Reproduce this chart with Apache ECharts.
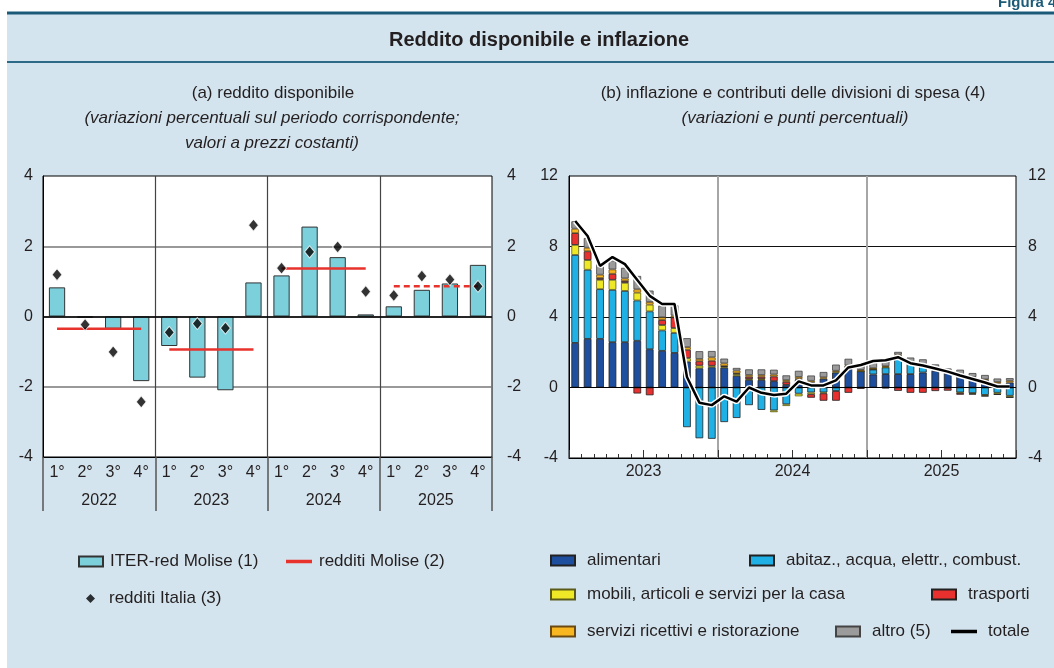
<!DOCTYPE html>
<html>
<head>
<meta charset="utf-8">
<title>Reddito disponibile e inflazione</title>
<script src="https://cdn.jsdelivr.net/npm/echarts@6/dist/echarts.min.js"></script>
<style>
  html, body { margin: 0; padding: 0; background: #fff; }
  #chart { width: 1054px; height: 668px; }
</style>
</head>
<body>
<div id="chart"></div>
<script>
// (a) reddito disponibile, dati trimestrali 2022-2025
const quarterLabels = ['1°', '2°', '3°', '4°'];
const years = ['2022', '2023', '2024', '2025'];
const iterRed = [0.83, -0.03, -0.35, -1.84, -0.84, -1.74, -2.1, 0.97, 1.17, 2.56, 1.69, 0.06, 0.29, 0.76, 0.94, 1.47];
const redditiItalia = [1.19, -0.23, -1.01, -2.43, -0.45, -0.2, -0.33, 2.6, 1.38, 1.84, 1.98, 0.71, 0.6, 1.15, 1.05, 0.86];
const redditiMolise = [-0.35, -0.94, 1.37, 0.86]; // valore annuo

// (b) inflazione, dati mensili 2023-2025
const inflYears = ['2023', '2024', '2025'];
const alimentari = [2.53, 2.76, 2.76, 2.57, 2.57, 2.65, 2.17, 2.08, 1.96, 1.47, 1.09, 1.15,
  1.12, 0.66, 0.43, 0.43, 0.36, 0.15, 0.45, 0.3, 0.5, 0.85, 1.17, 0.92,
  0.74, 0.76, 0.76, 0.76, 0.85, 0.95, 0.85, 0.66, 0.57, 0.43, 0.23, 0.28];
const abitazioni = [4.99, 3.92, 2.82, 2.97, 2.91, 2.29, 2.15, 1.16, 1.14, -2.25, -2.88, -2.91,
  -1.96, -1.73, -1.0, -1.27, -1.3, -0.95, -0.35, -0.28, -0.28, -0.2, 0, 0,
  0.28, 0.38, 1.04, 0.57, 0.38, 0.08, 0, -0.28, -0.32, -0.42, -0.3, -0.47];
const mobili = [0.57, 0.55, 0.53, 0.57, 0.46, 0.44, 0.38, 0.3, 0.27, 0.19, 0.15, 0.08,
  0.05, 0.1, 0.05, 0.05, -0.1, -0.1, -0.15, -0.1, -0.05, 0.05, 0.03, 0.03,
  0.03, 0.02, 0.02, 0.02, 0.02, 0.02, -0.03, -0.03, -0.03, -0.05, -0.08, -0.08];
const trasporti = [0.67, 0.5, 0.1, 0.34, 0.1, -0.34, -0.44, 0.29, 0.61, 0.48, 0.25, 0.29,
  0.05, 0.05, 0.13, 0.13, 0.27, 0.17, 0.05, -0.2, -0.42, -0.55, -0.3, -0.08,
  0, -0.05, -0.19, -0.3, -0.3, -0.2, -0.15, -0.1, -0.05, -0.03, -0.03, -0.02];
const servizi = [0.25, 0.2, 0.19, 0.25, 0.15, 0.19, 0.15, 0.15, 0.1, 0.15, 0.13, 0.19,
  0.15, 0.15, 0.1, 0.1, 0.11, 0.1, 0.1, 0.08, 0.08, 0.05, 0.05, 0.05,
  0.05, 0.05, 0.05, 0.03, 0.03, 0.03, 0.03, 0.03, 0.03, 0.03, 0.08, 0.1];
const altro = [0.42, 0.55, 0.6, 0.51, 0.6, 0.76, 0.65, 0.67, 0.59, 0.51, 0.44, 0.36,
  0.27, 0.15, 0.32, 0.32, 0.27, 0.27, 0.35, 0.3, 0.3, 0.35, 0.38, 0.35,
  0.38, 0.33, 0.15, 0.32, 0.32, 0.23, 0.2, 0.32, 0.22, 0.25, 0.2, 0.15];
const totale = [9.45, 8.6, 6.9, 7.4, 7.0, 6.1, 5.2, 4.74, 4.74, 0.6, -0.86, -1.0,
  -0.5, -0.8, 0.0, -0.3, -0.42, -0.35, 0.35, 0.12, 0.12, 0.4, 1.14, 1.28,
  1.5, 1.55, 1.72, 1.38, 1.25, 1.08, 0.9, 0.68, 0.48, 0.28, 0.06, 0.06];

const font = "'Liberation Sans', Arial, sans-serif";
const textColor = '#231f20';

const quarters = [];
years.forEach(() => quarterLabels.forEach(q => quarters.push(q)));
const months = [];
inflYears.forEach(y => { for (let m = 1; m <= 12; m++) months.push(y + '-' + m); });
const halfYears = [];
inflYears.forEach(y => { halfYears.push(y + ' I'); halfYears.push(y + ' II'); });

const chart = echarts.init(document.getElementById('chart'));

// linee annuali dei redditi Molise (2025 tratteggiata)
const moliseSeries = redditiMolise.map((v, i) => ({
  name: 'redditi Molise (2)',
  type: 'line',
  xAxisIndex: 0,
  yAxisIndex: 0,
  data: quarters.map((q, k) => (Math.floor(k / 4) === i ? v : null)),
  symbol: 'none',
  connectNulls: false,
  lineStyle: { color: '#e8322c', width: 2.5, type: i === 3 ? [6, 4] : 'solid' },
  itemStyle: { color: '#e8322c' },
  z: 4,
  silent: true
}));

function barSeries(name, data, color, border) {
  return {
    name: name,
    type: 'bar',
    stack: 'infl',
    xAxisIndex: 2,
    yAxisIndex: 2,
    barWidth: '62%',
    data: data,
    itemStyle: { color: color, borderColor: border || '#222', borderWidth: 0.8 },
    silent: true
  };
}

// una legenda per voce, per collocarle come nell'originale
function legend(name, left, top, gap, opts) {
  return Object.assign({
    data: [name],
    left: left,
    top: top,
    padding: 0,
    itemWidth: 24,
    itemHeight: 10,
    itemGap: 0,
    selectedMode: false,
    textStyle: { fontSize: 17, color: textColor, fontFamily: font, padding: [0, 0, 0, gap] }
  }, opts || {});
}

const option = {
  animation: false,
  textStyle: { fontFamily: font },
  graphic: [
    { type: 'rect', shape: { x: 7, y: 13, width: 1047, height: 655 }, style: { fill: '#d4e4ee' }, z: -10 },
    { type: 'line', shape: { x1: 7, y1: 13, x2: 1054, y2: 13 }, style: { stroke: '#1c5b78', lineWidth: 3 } },
    { type: 'line', shape: { x1: 7, y1: 62, x2: 1054, y2: 62 }, style: { stroke: '#2c6a88', lineWidth: 2 } },
    { type: 'text', x: 998, y: 3, style: { text: 'Figura 4.', font: 'bold 15px ' + font, fill: '#1c5b78', verticalAlign: 'middle' } },
    { type: 'text', x: 539, y: 40, style: { text: 'Reddito disponibile e inflazione', font: 'bold 20px ' + font, fill: textColor, align: 'center', verticalAlign: 'middle' } },
    { type: 'text', x: 273, y: 93, style: { text: '(a) reddito disponibile', font: '17px ' + font, fill: textColor, align: 'center', verticalAlign: 'middle' } },
    { type: 'text', x: 272, y: 118, style: { text: '(variazioni percentuali sul periodo corrispondente;', font: 'italic 17px ' + font, fill: textColor, align: 'center', verticalAlign: 'middle' } },
    { type: 'text', x: 272, y: 143, style: { text: 'valori a prezzi costanti)', font: 'italic 17px ' + font, fill: textColor, align: 'center', verticalAlign: 'middle' } },
    { type: 'text', x: 793, y: 93, style: { text: '(b) inflazione e contributi delle divisioni di spesa (4)', font: '17px ' + font, fill: textColor, align: 'center', verticalAlign: 'middle' } },
    { type: 'text', x: 795, y: 118, style: { text: '(variazioni e punti percentuali)', font: 'italic 17px ' + font, fill: textColor, align: 'center', verticalAlign: 'middle' } }
  ],
  legend: [
    legend('ITER-red Molise (1)', 78, 553, 2, { icon: 'rect' }),
    legend('redditi Molise (2)', 286, 553, 2, { icon: 'rect', itemHeight: 3.5, itemWidth: 26 }),
    legend('redditi Italia (3)', 86, 590, 9, { icon: 'diamond', itemWidth: 9, itemHeight: 9, itemStyle: { borderWidth: 0 } }),
    legend('alimentari', 550, 552, 7, { icon: 'rect' }),
    legend('abitaz., acqua, elettr., combust.', 749, 552, 7, { icon: 'rect' }),
    legend('mobili, articoli e servizi per la casa', 550, 586, 7, { icon: 'rect' }),
    legend('trasporti', 931, 586, 7, { icon: 'rect' }),
    legend('servizi ricettivi e ristorazione', 550, 623, 7, { icon: 'rect' }),
    legend('altro (5)', 835, 623, 7, { icon: 'rect' }),
    legend('totale', 951, 623, 6, { icon: 'rect', itemHeight: 3.5, itemWidth: 26 })
  ],
  grid: [
    { left: 43, top: 176, width: 449, height: 281, show: true, backgroundColor: '#fff', borderColor: '#000', borderWidth: 1 },
    { left: 569, top: 176, width: 447, height: 282, show: true, backgroundColor: '#fff', borderColor: '#000', borderWidth: 1 }
  ],
  xAxis: [
    {
      gridIndex: 0, type: 'category', data: quarters, position: 'bottom',
      axisLine: { show: true, onZero: false, lineStyle: { color: '#000', width: 1 } },
      axisTick: { show: false },
      axisLabel: { margin: 8, fontSize: 16, color: textColor, interval: 0 },
      splitLine: { show: false }
    },
    {
      gridIndex: 0, type: 'category', data: years, position: 'bottom',
      axisLine: { show: false, onZero: false },
      axisTick: { show: true, length: 54, lineStyle: { color: '#555', width: 1.5 } },
      axisLabel: { margin: 36, fontSize: 16, color: textColor },
      splitLine: { show: true, showMinLine: false, showMaxLine: false, lineStyle: { color: '#444', width: 1.2 } }
    },
    {
      gridIndex: 1, type: 'category', data: months, position: 'bottom',
      axisLine: { show: true, onZero: false, lineStyle: { color: '#000', width: 1 } },
      axisTick: { show: true, inside: true, length: 4, interval: 0, lineStyle: { color: '#333' } },
      axisLabel: { show: false },
      splitLine: { show: false }
    },
    {
      gridIndex: 1, type: 'category', data: halfYears, position: 'bottom',
      axisLine: { show: false, onZero: false },
      axisTick: { show: true, inside: true, length: 8, interval: 0, lineStyle: { color: '#333' } },
      axisLabel: { show: false },
      splitLine: { show: false }
    },
    {
      gridIndex: 1, type: 'category', data: inflYears, position: 'bottom',
      axisLine: { show: false, onZero: false },
      axisTick: { show: false },
      axisLabel: { margin: 6, fontSize: 16, color: textColor },
      splitLine: { show: true, showMinLine: false, showMaxLine: false, lineStyle: { color: '#a6a6a6', width: 2 } }
    }
  ],
  yAxis: [
    {
      gridIndex: 0, type: 'value', min: -4, max: 4, interval: 2, position: 'left',
      axisLine: { show: true, onZero: false, lineStyle: { color: '#000' } },
      axisTick: { show: false },
      axisLabel: { margin: 10, fontSize: 16, color: textColor },
      splitLine: { show: true, showMinLine: false, showMaxLine: false, lineStyle: { color: '#777', width: 1.5 } }
    },
    {
      gridIndex: 0, type: 'value', min: -4, max: 4, interval: 2, position: 'right',
      axisLine: { show: false, onZero: false }, axisTick: { show: false },
      axisLabel: { margin: 15, fontSize: 16, color: textColor },
      splitLine: { show: false }
    },
    {
      gridIndex: 1, type: 'value', min: -4, max: 12, interval: 4, position: 'left',
      axisLine: { show: true, onZero: false, lineStyle: { color: '#000' } },
      axisTick: { show: false },
      axisLabel: { margin: 11, fontSize: 16, color: textColor },
      splitLine: { show: true, showMinLine: false, showMaxLine: false, lineStyle: { color: '#111', width: 1 } }
    },
    {
      gridIndex: 1, type: 'value', min: -4, max: 12, interval: 4, position: 'right',
      axisLine: { show: false, onZero: false }, axisTick: { show: false },
      axisLabel: { margin: 12, fontSize: 16, color: textColor },
      splitLine: { show: false }
    }
  ],
  series: [
    {
      name: 'ITER-red Molise (1)',
      type: 'bar',
      xAxisIndex: 0,
      yAxisIndex: 0,
      barWidth: '58%',
      data: iterRed,
      itemStyle: { color: '#7bd0dc', borderColor: '#333', borderWidth: 1 },
      silent: true,
      markLine: {
        silent: true, symbol: ['none', 'none'], label: { show: false },
        lineStyle: { color: '#000', width: 1.5, type: 'solid' },
        data: [{ yAxis: 0 }]
      }
    },
    ...moliseSeries,
    {
      name: 'redditi Italia (3)',
      type: 'scatter',
      xAxisIndex: 0,
      yAxisIndex: 0,
      data: redditiItalia,
      symbol: 'diamond',
      symbolSize: [10, 12],
      itemStyle: { color: '#000', borderColor: '#fff', borderWidth: 1 },
      z: 5,
      silent: true
    },
    Object.assign(barSeries('alimentari', alimentari, '#1e4f9e'), {
      markLine: {
        silent: true, symbol: ['none', 'none'], label: { show: false },
        lineStyle: { color: '#000', width: 1, type: 'solid' },
        data: [{ yAxis: 0 }]
      }
    }),
    barSeries('abitaz., acqua, elettr., combust.', abitazioni, '#1fb1e6'),
    barSeries('mobili, articoli e servizi per la casa', mobili, '#efe826', '#5a5a1a'),
    barSeries('trasporti', trasporti, '#e8302f'),
    barSeries('servizi ricettivi e ristorazione', servizi, '#f8b721', '#6a4a10'),
    barSeries('altro (5)', altro, '#9b9b9b', '#444'),
    {
      name: 'alone',
      type: 'line',
      xAxisIndex: 2,
      yAxisIndex: 2,
      data: totale,
      symbol: 'none',
      lineStyle: { color: '#fff', width: 5.5 },
      z: 5,
      silent: true
    },
    {
      name: 'totale',
      type: 'line',
      xAxisIndex: 2,
      yAxisIndex: 2,
      data: totale,
      symbol: 'none',
      lineStyle: { color: '#000', width: 2.5 },
      itemStyle: { color: '#000' },
      z: 6,
      silent: true
    }
  ]
};

chart.setOption(option);
</script>
</body>
</html>
